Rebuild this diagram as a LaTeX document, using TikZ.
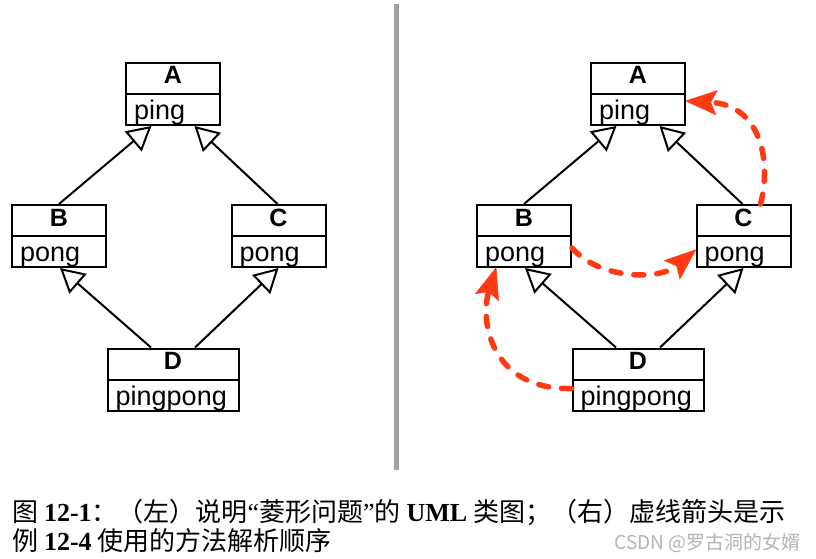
\documentclass[tikz,border=0pt]{standalone}
\usepackage{fontspec}
\setmainfont{Liberation Sans}
\newfontfamily\cjk{Noto Sans CJK SC}
\newfontfamily\tms{Liberation Serif}
\usetikzlibrary{arrows.meta,calc}
\definecolor{dashred}{HTML}{FF3A12}
\definecolor{sepgray}{HTML}{A2A2A2}
\definecolor{markgray}{HTML}{B4B4B4}
\tikzset{
  cls/.style={draw, line width=2pt, minimum height=62pt, inner sep=0pt},
  ttl/.style={font=\fontsize{25}{25}\selectfont\bfseries, anchor=base, inner sep=0pt},
  attr/.style={font=\fontsize{27}{27}\selectfont, anchor=base west, inner sep=0pt},
  inh/.style={line width=2pt, -{Triangle[open, length=24pt, width=26pt, line width=2pt]}},
  mro/.style={dashred, line width=5.5pt, line cap=round, dash pattern=on 10pt off 13pt,
    -{Stealth[length=32pt 0, width=25pt 0, inset=6pt 0, line width=0.5pt, sep=-1pt]}},
  captext/.style={anchor=base west, inner sep=0pt, font=\fontsize{26}{26}\selectfont}
}
% one UML class box: name, x, y, width, title, attribute
\newcommand\umlclass[6]{%
  \node[cls, minimum width=#4pt] (#1) at (#2,#3) {};
  \draw[line width=2pt] (#1.west) -- (#1.east);
  \node[ttl] (#1t) at ([yshift=-22pt]#1.north) {#5};
  \node[attr] (#1a) at ([xshift=9pt,yshift=6.5pt]#1.south west) {#6};
}
% the diamond of four classes with inheritance arrows
\newcommand\diamondgraph[1]{%
  \umlclass{#1A}{173}{94}{94}{A}{ping}
  \umlclass{#1B}{59}{236}{94}{B}{pong}
  \umlclass{#1C}{278.5}{236}{94}{C}{pong}
  \umlclass{#1D}{173}{379.5}{131}{D}{pingpong}
  \draw[inh] (#1B.north) -- ([xshift=-21.5pt]#1A.south);
  \draw[inh] ([xshift=-1pt]#1C.north) -- ([xshift=21.5pt]#1A.south);
  \draw[inh] ([xshift=-22pt]#1D.north) -- ([xshift=1pt]#1B.south);
  \draw[inh] ([xshift=22pt]#1D.north) -- (#1C.south);
}
\begin{document}
\begin{tikzpicture}[x=1pt, y=-1pt]
\useasboundingbox (0,0) rectangle (816,559);
\fill[white] (0,0) rectangle (816,559);

\diamondgraph{L}
\begin{scope}[shift={(465,0)}]
  \diamondgraph{R}
\end{scope}

% separator between the two halves
\coordinate (sepTop) at (396.5,4);
\coordinate (sepBot) at (396.5,470);
\draw[sepgray, line width=5pt] (sepTop) -- (sepBot);

% method resolution order
\draw[mro] ([yshift=-9pt]RD.west) .. controls (490,390) and (480,320) .. ([xshift=-28pt]RB.south);
\draw[mro] ([yshift=-12pt]RB.east) .. controls (600,280) and (660,280) .. ([yshift=-14pt]RC.west);
\draw[mro] ([xshift=17pt]RC.north) .. controls (772,160) and (760,105) .. ([yshift=-7pt]RA.east);

% caption
\node[captext] (cap1) at (12,521) {\cjk 图 {\tms\bfseries 12-1}：（左）说明{\tms “}菱形问题{\tms ”}的 {\tms\bfseries UML} 类图；（右）虚线箭头是示};
\node[captext] (cap2) at (12,550) {\cjk 例 {\tms\bfseries 12-4} 使用的方法解析顺序};
\node[anchor=base east, inner sep=0pt, markgray, font=\fontsize{19}{19}\selectfont\cjk] (mark) at (801,549) {CSDN @罗古洞的女婿};
\end{tikzpicture}
\end{document}
